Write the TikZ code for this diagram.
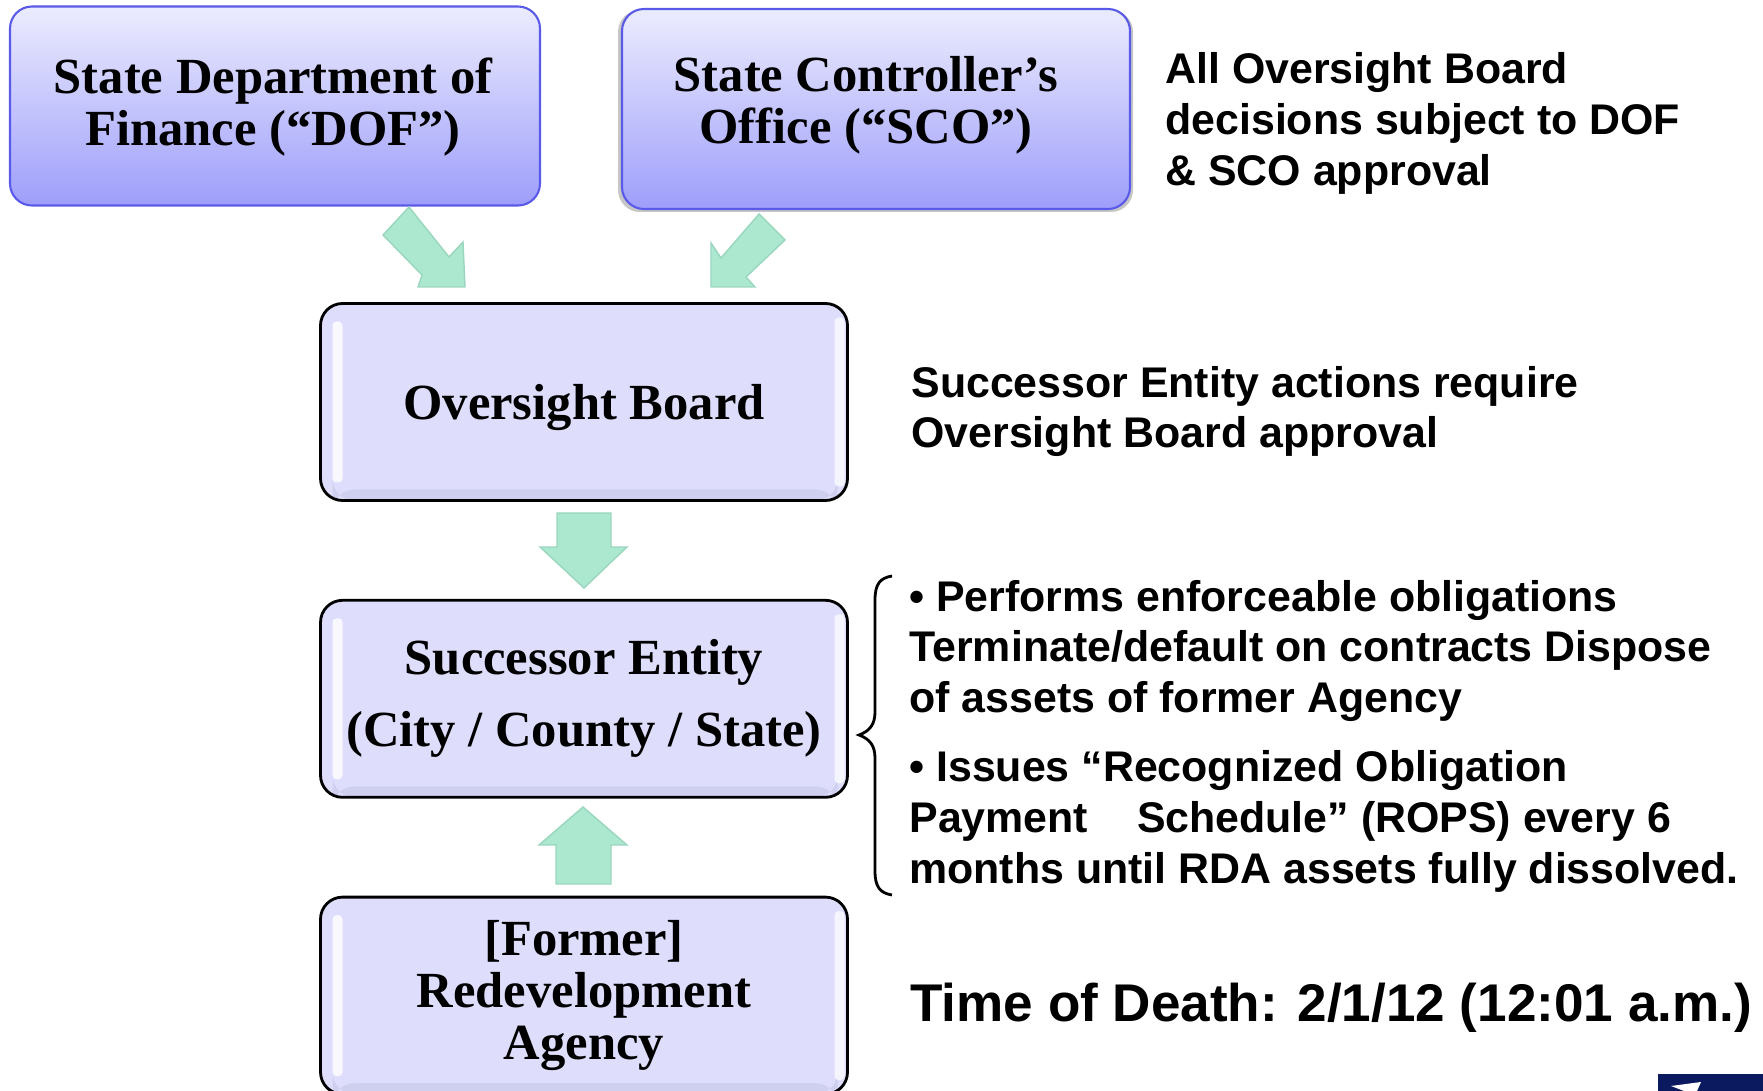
\documentclass[tikz,border=0pt]{standalone}
\usepackage{fontspec}
\setmainfont{Liberation Serif}
\setsansfont{Liberation Sans}
\usetikzlibrary{positioning}

\definecolor{boxfill}{HTML}{DEDEFC}
\definecolor{boxedge}{HTML}{CFCFF0}
\definecolor{topfill}{HTML}{ECECFE}
\definecolor{lowfill}{HTML}{9E9EFB}
\definecolor{topline}{HTML}{5A5AE8}
\definecolor{flowfill}{HTML}{ABE8CF}
\definecolor{flowline}{HTML}{9AD6BE}
\definecolor{logoblue}{HTML}{0B1A5E}

\begin{document}
\begin{tikzpicture}[
    x = 0.1mm, y = -0.1mm,
    node distance = 9.7mm and 6mm,
    boxtext/.style = {align=center, font=\bfseries\fontsize{14.4}{14.8}\selectfont},
    headbox/.style = {rectangle, rounded corners=2.2mm, draw=topline, semithick, top color=topfill, bottom color=lowfill},
    glossbox/.style = {rectangle, rounded corners=2.2mm, draw=black, thick, fill=boxfill, minimum width=52.7mm, minimum height=19.7mm, boxtext,
        path picture={
            \fill[boxedge] ([xshift=1.2mm]path picture bounding box.south west) rectangle ([xshift=-1mm,yshift=1.1mm]path picture bounding box.south east);
            \fill[white, opacity=.8, rounded corners=.4mm] ([xshift=1.2mm,yshift=-1.8mm]path picture bounding box.north west) rectangle ([xshift=2.2mm,yshift=1.8mm]path picture bounding box.south west);
            \fill[white, opacity=.7, rounded corners=.4mm] ([xshift=-1.3mm,yshift=-1.4mm]path picture bounding box.north east) rectangle ([xshift=-.3mm,yshift=1.4mm]path picture bounding box.south east);
        }},
    note/.style = {anchor=west, align=left, font=\sffamily\bfseries\fontsize{12.2}{14.5}\selectfont},
    flow/.style = {fill=flowfill, draw=flowline, thin},
]
    \useasboundingbox (0,0) rectangle (1763,1091);
    % Boites du haut
    \fill[gray!45, rounded corners=2.2mm] (618,10) rectangle (1133,212);
    \node[headbox, minimum width=53mm, minimum height=19.9mm] (dof) at (275,106) {};
    \node[headbox, minimum width=50.8mm, minimum height=20mm] (sco) at (876,109) {};
    \node[boxtext] (doftext) at (273,107.5) {State Department of\\ Finance (“DOF”)};
    \node[boxtext] (scotext) at (866,105.5) {State Controller’s\\ Office (“SCO”)};
    % Boites du milieu
    \node[glossbox, text depth=0pt] (board) at (584,402) {Oversight Board};
    \node[glossbox, below=of board] (entity) {Successor Entity\\[2mm] (City / County / State)};
    \node[glossbox, below=of entity] (agency) {[Former]\\ Redevelopment\\ Agency};
    % Fleches
    \draw[flow] (409,207) -- (383,235) -- (422,275) -- (418,287) -- (465,287) -- (463,242) -- (449,257) -- cycle;
    \draw[flow] (759,214) -- (785,240) -- (746,277) -- (755,287) -- (711,287) -- (711,243) -- (721,258) -- cycle;
    \draw[flow] (557,513) -- (611,513) -- (611,547) -- (627,547) -- (584,588) -- (540,547) -- (557,547) -- cycle;
    \draw[flow] (556,884) -- (611,884) -- (611,845) -- (627,845) -- (583,807) -- (539,845) -- (556,845) -- cycle;
    % Textes de droite
    \node[note] (review) at (1153,123.5) {All Oversight Board\\ decisions subject to DOF\\ \& SCO approval};
    \node[note] (approval) at (899,411.5) {Successor Entity actions require\\ Oversight Board approval};
    \node[note] (duties) at (897,651) {• Performs enforceable obligations\\ Terminate/default on contracts Dispose\\ of assets of former Agency};
    \node[note] (rops) at (897,821.5) {• Issues “Recognized Obligation\\ Payment\hspace{4.9mm}Schedule” (ROPS) every 6\\ months until RDA assets fully dissolved.};
    \node[note, font=\sffamily\bfseries\fontsize{15.1}{18}\selectfont] (death) at (898,1008) {Time of Death: 2/1/12 (12:01 a.m.)};
    % Accolade
    \coordinate (bracetop) at (892,576);
    \coordinate (bracetip) at (859,735);
    \coordinate (bracelow) at (892,895);
    \draw[thick] (bracetop) .. controls (880,578) and (875,584) .. (875,600) -- (875,712)
        .. controls (875,724) and (870,731) .. (bracetip)
        .. controls (870,739) and (875,746) .. (875,758) -- (875,871)
        .. controls (875,887) and (880,893) .. (bracelow);
    % Bout de logo
    \fill[logoblue] (1658,1074) rectangle (1763,1091);
    \fill[white] (1671,1086) -- (1701,1082) -- (1697,1091) -- (1684,1091) -- cycle;
\end{tikzpicture}
\end{document}
